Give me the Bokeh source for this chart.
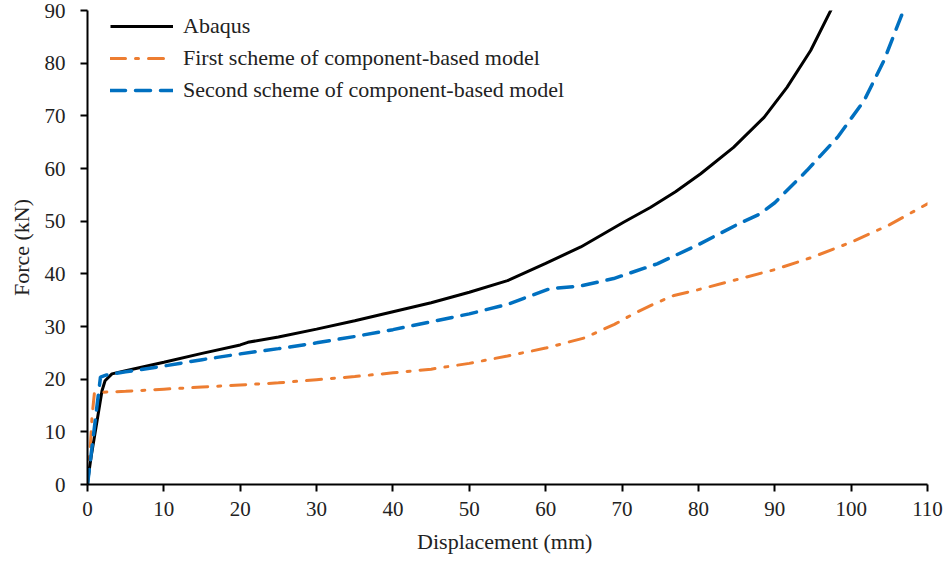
from bokeh.plotting import figure
from bokeh.models import Legend, LegendItem, FixedTicker
from bokeh.embed import file_html
from bokeh.resources import INLINE

# Abaqus
abaqus_x = [0, 0.2, 0.5, 1.05, 1.9, 2.3, 3.2, 5, 10, 15, 20, 21, 25, 30, 35, 40, 45, 50, 55, 60,
            64.6, 70.2, 73.7, 77, 80.3, 84.6, 88.6, 91.6, 94.7, 97.5]
abaqus_y = [0, 2.5, 5.5, 10.3, 17.8, 19.7, 21.0, 21.6, 23.2, 24.9, 26.5, 27.0, 28.0, 29.5, 31.1, 32.8,
            34.5, 36.5, 38.7, 42.0, 45.1, 49.8, 52.6, 55.6, 59.0, 64.0, 69.7, 75.4, 82.4, 90.5]

# First scheme
first_x = [0, 0.4, 0.6, 0.9, 1.5, 5, 10, 15, 20, 25, 30, 35, 40, 45, 50, 55, 60, 65, 69, 71.5, 74.2,
           76.8, 80, 85, 90, 95, 100, 105, 110]
first_y = [0, 8.0, 13.0, 17.3, 17.5, 17.7, 18.1, 18.5, 18.9, 19.3, 19.9, 20.5, 21.2, 21.9, 23.0, 24.4,
           25.9, 27.8, 30.4, 32.4, 34.3, 35.9, 37.0, 38.9, 40.8, 43.2, 46.0, 49.3, 53.3]

# Second scheme
second_x = [0, 1.7, 2.5, 5, 10, 15, 20, 25, 30, 35, 40, 45, 50, 55, 58, 60.6, 64.6, 68.9, 74.6, 79.8,
            85, 88.1, 90, 94.2, 98.2, 101.7, 104.3, 106.5, 107]
second_y = [0, 20.4, 20.8, 21.4, 22.5, 23.7, 24.8, 25.8, 26.9, 28.1, 29.4, 30.9, 32.4, 34.2, 35.8, 37.2,
            37.7, 39.1, 41.9, 45.4, 49.3, 51.4, 53.5, 59.6, 65.9, 72.9, 80.5, 88.7, 90.5]

x_ticks = [0, 10, 20, 30, 40, 50, 60, 70, 80, 90, 100, 110]
y_ticks = [0, 10, 20, 30, 40, 50, 60, 70, 80, 90]

FONT = "Liberation Serif"

p = figure(width=945, height=560, x_range=(0, 110), y_range=(0, 90),
           output_backend="svg", toolbar_location=None,
           min_border_left=87, min_border_right=18, min_border_top=10, min_border_bottom=76)
p.outline_line_color = None
p.xgrid.grid_line_color = None
p.ygrid.grid_line_color = None
p.background_fill_color = "white"
p.border_fill_color = "white"

for ax, ticks in ((p.xaxis, x_ticks), (p.yaxis, y_ticks)):
    ax.ticker = FixedTicker(ticks=ticks)
    ax.minor_tick_line_color = None
    ax.major_tick_in = 0
    ax.major_tick_out = 7
    ax.axis_line_width = 2
    ax.major_tick_line_width = 2
    ax.axis_line_color = "black"
    ax.major_tick_line_color = "black"
    ax.major_label_text_font = FONT
    ax.major_label_text_font_size = "21px"
    ax.major_label_text_color = "#222222"
    ax.axis_label_text_font = FONT
    ax.axis_label_text_font_size = "22px"
    ax.axis_label_text_font_style = "normal"
    ax.axis_label_text_color = "#222222"

p.xaxis.axis_label = "Displacement  (mm)"
p.yaxis.axis_label = "Force (kN)"
p.xaxis.major_label_standoff = 10
p.yaxis.major_label_standoff = 15
p.xaxis.axis_label_standoff = 10
p.yaxis.axis_label_standoff = 8

r1 = p.line(abaqus_x, abaqus_y, line_color="black", line_width=3)
r2 = p.line(first_x, first_y, line_color="#ED7D31", line_width=3,
            line_dash="15 10 3 10", line_cap="round")
r3 = p.line(second_x, second_y, line_color="#0070C0", line_width=3.5,
            line_dash="15 10", line_cap="round")

legend = Legend(items=[
    LegendItem(label="Abaqus", renderers=[r1]),
    LegendItem(label="First scheme of component-based model", renderers=[r2]),
    LegendItem(label="Second scheme of component-based model", renderers=[r3]),
], location=(23, 381))
legend.border_line_color = None
legend.background_fill_alpha = 0
legend.padding = 0
legend.margin = 0
legend.spacing = 6
legend.glyph_width = 63
legend.glyph_height = 22
legend.label_height = 22
legend.label_standoff = 10
legend.label_text_font = FONT
legend.label_text_font_size = "22px"
legend.label_text_color = "#222222"
p.add_layout(legend, "center")

open("out.html", "w").write(file_html(p, INLINE))
